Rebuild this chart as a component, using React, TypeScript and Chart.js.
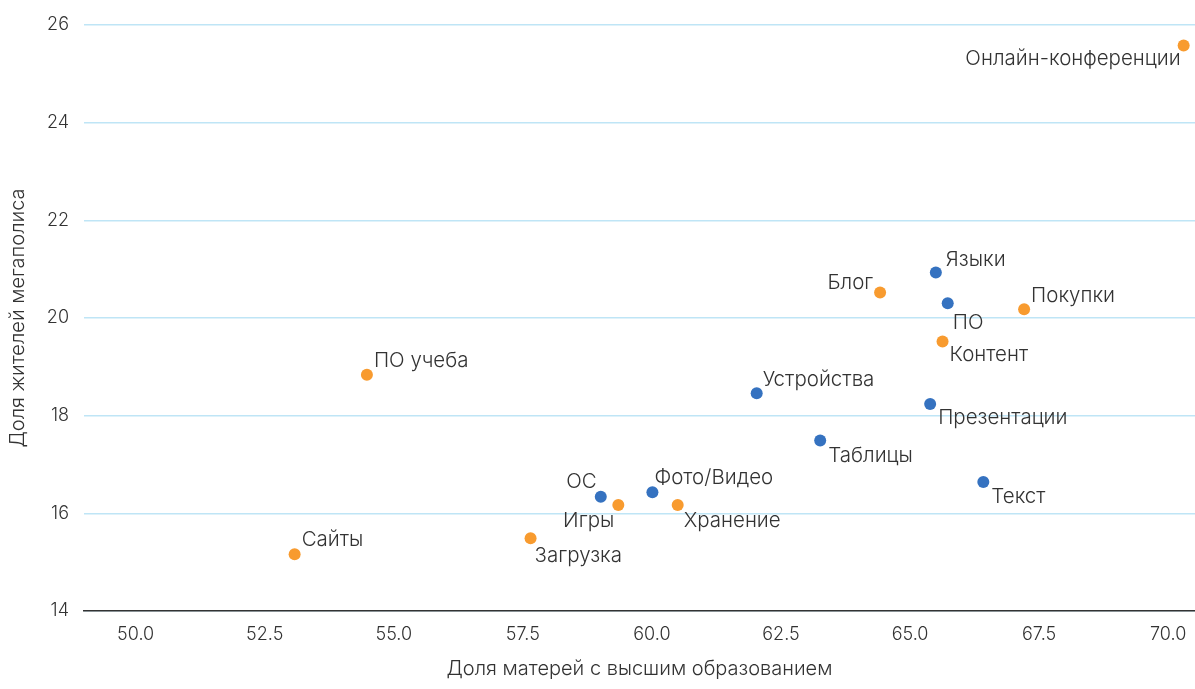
import React, { useEffect, useRef } from "react";
import { Chart, registerables } from "chart.js";

Chart.register(...registerables);

// ---- data ----
const blueNames = ["Языки", "ПО", "Устройства", "Презентации", "Таблицы", "Текст", "Фото/Видео", "ОС"];
const blueX = [65.5, 65.73, 62.03, 65.39, 63.26, 66.42, 60.01, 59.01];
const blueY = [20.93, 20.3, 18.46, 18.24, 17.49, 16.64, 16.43, 16.34];

const orangeNames = ["Онлайн-конференции", "Блог", "Покупки", "Контент", "ПО учеба", "Игры", "Хранение", "Загрузка", "Сайты"];
const orangeX = [70.3, 64.42, 67.21, 65.63, 54.48, 59.35, 60.5, 57.65, 53.08];
const orangeY = [25.58, 20.52, 20.18, 19.52, 18.84, 16.17, 16.17, 15.49, 15.16];

const xTicks = [50, 52.5, 55, 57.5, 60, 62.5, 65, 67.5, 70];
const yTicks = [14, 16, 18, 20, 22, 24, 26];

const xTitle = "Доля матерей с высшим образованием";
const yTitle = "Доля жителей мегаполиса";

// ---- label placement (style only): [dx, dy, align] relative to the point ----
const labelPlacement: Record<string, [number, number, CanvasTextAlign]> = {
  "Онлайн-конференции": [-3, 13, "right"],
  "Языки": [10, -13, "left"],
  "Блог": [-7, -10, "right"],
  "ПО": [5, 19, "left"],
  "Покупки": [7, -13, "left"],
  "Контент": [7, 13, "left"],
  "ПО учеба": [7, -14, "left"],
  "Устройства": [6, -13, "left"],
  "Презентации": [8, 14, "left"],
  "Таблицы": [8, 15, "left"],
  "Текст": [8, 15, "left"],
  "Фото/Видео": [2, -14, "left"],
  "ОС": [-4, -15, "right"],
  "Игры": [-4, 16, "right"],
  "Хранение": [6, 16, "left"],
  "Загрузка": [4, 18, "left"],
  "Сайты": [7, -15, "left"],
};

const FONT = "Inter, Roboto, 'DejaVu Sans', sans-serif";
const WEIGHT = 300;
const TEXT = "#333333";
const BLUE = "#3572c0";
const ORANGE = "#f89b2f";

const pointLabels = {
  id: "pointLabels",
  afterDatasetsDraw(chart: any) {
    const ctx = chart.ctx;
    ctx.save();
    ctx.font = `${WEIGHT} 20.5px ${FONT}`;
    ctx.fillStyle = TEXT;
    ctx.textBaseline = "middle";
    chart.data.datasets.forEach((ds: any, i: number) => {
      const meta = chart.getDatasetMeta(i);
      meta.data.forEach((el: any, j: number) => {
        const name = ds.names[j];
        const pl = labelPlacement[name] || [7, -14, "left"];
        ctx.textAlign = pl[2];
        ctx.fillText(name, el.x + pl[0], el.y + pl[1]);
      });
    });
    ctx.restore();
  },
};

export default function App() {
  const ref = useRef<HTMLCanvasElement | null>(null);

  useEffect(() => {
    document.body.style.margin = "0";
    if (!ref.current) return;
    const toPts = (xs: number[], ys: number[]) => xs.map((x, i) => ({ x, y: ys[i] }));
    const chart = new Chart(ref.current, {
      type: "scatter",
      data: {
        datasets: [
          {
            label: "blue",
            data: toPts(blueX, blueY),
            names: blueNames,
            backgroundColor: BLUE,
            borderWidth: 0,
            pointRadius: 6,
          } as any,
          {
            label: "orange",
            data: toPts(orangeX, orangeY),
            names: orangeNames,
            backgroundColor: ORANGE,
            borderWidth: 0,
            pointRadius: 6,
          } as any,
        ],
      },
      options: {
        animation: false,
        responsive: false,
        layout: { autoPadding: false, padding: { top: 25, right: 0, left: 0, bottom: 0 } },
        plugins: {
          legend: { display: false },
          tooltip: { enabled: false },
        },
        scales: {
          x: {
            type: "linear",
            min: 49,
            max: 70.52,
            afterBuildTicks: (s: any) => {
              s.ticks = xTicks.map((v) => ({ value: v }));
            },
            afterFit: (s: any) => {
              s.height = 78;
              s.paddingLeft = 0;
              s.paddingRight = 0;
            },
            grid: { display: false, drawTicks: false },
            border: { display: true, color: "#333333", width: 1.5 },
            ticks: {
              padding: 13,
              color: TEXT,
              font: { family: FONT, size: 18, weight: WEIGHT as any },
              callback: (v: any) => Number(v).toFixed(1),
            },
            title: {
              display: true,
              text: xTitle,
              color: TEXT,
              font: { family: FONT, size: 20, weight: WEIGHT as any },
              padding: { top: 0, bottom: 8 },
            },
          },
          y: {
            type: "linear",
            min: 14,
            max: 26,
            afterBuildTicks: (s: any) => {
              s.ticks = yTicks.map((v) => ({ value: v }));
            },
            afterFit: (s: any) => {
              s.width = 84;
              s.paddingTop = 0;
              s.paddingBottom = 0;
            },
            grid: { color: "#bfe5f6", lineWidth: 1.4, drawTicks: false },
            border: { display: false },
            ticks: {
              padding: 15,
              color: TEXT,
              font: { family: FONT, size: 18, weight: WEIGHT as any },
              callback: (v: any) => String(v),
            },
            title: {
              display: true,
              text: yTitle,
              color: TEXT,
              font: { family: FONT, size: 20, weight: WEIGHT as any },
              padding: { top: 6, bottom: 0 },
            },
          },
        },
      },
      plugins: [pointLabels],
    });
    return () => chart.destroy();
  }, []);

  return (
    <div style={{ width: 1195, height: 689 }}>
      <canvas ref={ref} width={1195} height={689} style={{ display: "block" }} />
    </div>
  );
}
